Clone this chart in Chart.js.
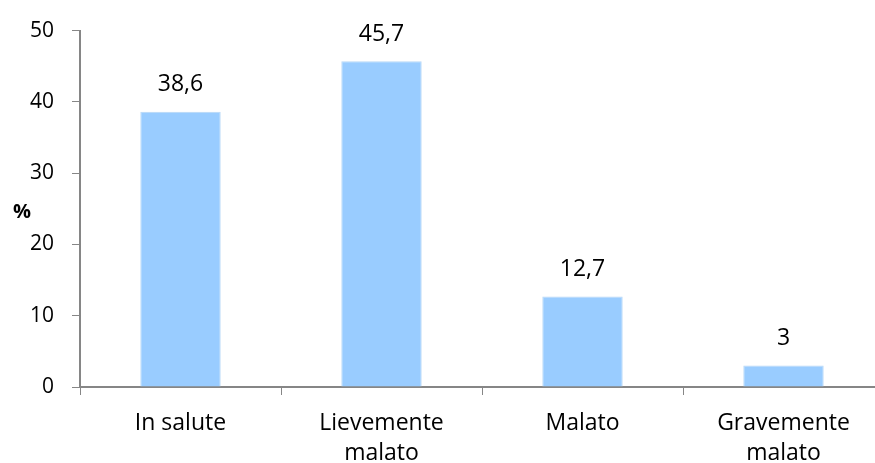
<!DOCTYPE html>
<html>
<head>
<meta charset="utf-8">
<script src="https://cdn.jsdelivr.net/npm/chart.js@4/dist/chart.umd.min.js"></script>
<style>
  html, body { margin: 0; padding: 0; background: #fff; overflow: hidden; }
  #wrap { position: relative; width: 884px; height: 463px; }
</style>
</head>
<body>
<div id="wrap"><canvas id="healthChart"></canvas></div>
<script>
const categories = [['In salute'], ['Lievemente', 'malato'], ['Malato'], ['Gravemente', 'malato']];
const percentages = [38.6, 45.7, 12.7, 3];
const valueLabels = ['38,6', '45,7', '12,7', '3'];
const yTicks = [0, 10, 20, 30, 40, 50];

const FONT = '"Open Sans", Lato, sans-serif';
const AXIS_COLOR = '#868686';

// draws value labels above the bars and the "%" axis title
const labelPlugin = {
    id: 'labelPlugin',
    afterDatasetsDraw(chart) {
        const ctx = chart.ctx;
        const meta = chart.getDatasetMeta(0);
        ctx.save();
        ctx.fillStyle = '#000';
        ctx.font = '23px ' + FONT;
        ctx.textAlign = 'center';
        ctx.textBaseline = 'middle';
        meta.data.forEach((bar, i) => {
            ctx.fillText(valueLabels[i], bar.x, bar.y - 27);
        });
        ctx.font = 'bold 20px ' + FONT;
        const yScale = chart.scales.y;
        ctx.fillText('%', 22, yScale.getPixelForValue(24.5));
        ctx.restore();
    }
};

const ctx = document.getElementById('healthChart').getContext('2d');
new Chart(ctx, {
    type: 'bar',
    data: {
        labels: categories,
        datasets: [{
            data: percentages,
            backgroundColor: '#99CCFF',
            borderColor: '#B8D8F6',
            borderWidth: 1,
            barPercentage: 0.8,
            categoryPercentage: 0.5
        }]
    },
    options: {
        responsive: true,
        maintainAspectRatio: false,
        animation: false,
        layout: { padding: { top: 28, right: 0, left: 0, bottom: 0 } },
        plugins: {
            legend: { display: false },
            tooltip: { enabled: false }
        },
        scales: {
            x: {
                offset: true,
                grid: {
                    offset: true,
                    drawOnChartArea: false,
                    tickLength: 8,
                    color: AXIS_COLOR
                },
                border: { color: AXIS_COLOR, width: 2 },
                ticks: {
                    color: '#000',
                    padding: 14,
                    maxRotation: 0,
                    font: { family: FONT, size: 23, lineHeight: 1.3 }
                },
                afterFit(scale) { scale.height = 76; }
            },
            y: {
                min: 0,
                max: 50,
                afterBuildTicks(scale) { scale.ticks = yTicks.map(v => ({ value: v })); },
                grid: {
                    drawOnChartArea: false,
                    tickLength: 8,
                    color: AXIS_COLOR
                },
                border: { color: AXIS_COLOR, width: 2 },
                ticks: {
                    color: '#000',
                    padding: 18,
                    font: { family: FONT, size: 21 }
                },
                afterFit(scale) { scale.width = 80; }
            }
        }
    },
    plugins: [labelPlugin]
});
</script>
</body>
</html>
